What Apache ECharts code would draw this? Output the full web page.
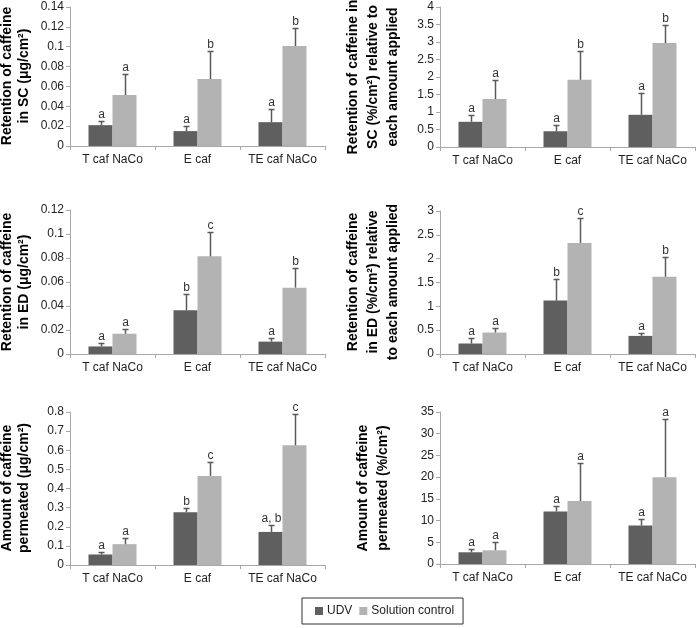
<!doctype html>
<html>
<head>
<meta charset="utf-8">
<title>caffeine retention</title>
<style>
html, body { margin: 0; padding: 0; background: #fff; }
#chart { width: 696px; height: 628px; }
</style>
</head>
<body>
<div id="chart"></div>
<script src="https://cdn.jsdelivr.net/npm/echarts@6/dist/echarts.min.js"></script>
<script>
// categories + series names
var categories = ['T caf NaCo', 'E caf', 'TE caf NaCo'];
var seriesNames = ['UDV', 'Solution control'];

// SC, ug/cm2
var scUgUdv = [0.021, 0.015, 0.024];
var scUgUdvSd = [0.0045, 0.0047, 0.0134];
var scUgSol = [0.0514, 0.0675, 0.1007];
var scUgSolSd = [0.0216, 0.0285, 0.0183];
// SC, % of applied
var scPctUdv = [0.72, 0.45, 0.92];
var scPctUdvSd = [0.19, 0.17, 0.61];
var scPctSol = [1.37, 1.92, 2.97];
var scPctSolSd = [0.55, 0.81, 0.52];
// ED, ug/cm2
var edUgUdv = [0.0063, 0.0364, 0.0103];
var edUgUdvSd = [0.0031, 0.0133, 0.0027];
var edUgSol = [0.0169, 0.0814, 0.0553];
var edUgSolSd = [0.0037, 0.0200, 0.0161];
// ED, % of applied
var edPctUdv = [0.22, 1.12, 0.38];
var edPctUdvSd = [0.11, 0.46, 0.07];
var edPctSol = [0.45, 2.33, 1.62];
var edPctSolSd = [0.09, 0.52, 0.41];
// permeated, ug/cm2
var permUgUdv = [0.055, 0.276, 0.173];
var permUgUdvSd = [0.011, 0.020, 0.035];
var permUgSol = [0.109, 0.466, 0.626];
var permUgSolSd = [0.033, 0.070, 0.162];
// permeated, %/cm2
var permPctUdv = [2.7, 12.1, 8.85];
var permPctUdvSd = [0.7, 1.3, 1.45];
var permPctSol = [3.15, 14.5, 20.0];
var permPctSolSd = [2.0, 8.7, 13.4];

// significance letters
var lettersAAA = ['a', 'a', 'a'];
var lettersABB = ['a', 'b', 'b'];
var lettersABA = ['a', 'b', 'a'];
var lettersACB = ['a', 'c', 'b'];
var lettersABAB = ['a', 'b', 'a, b'];
var lettersACC = ['a', 'c', 'c'];

// y axis ranges
var yMax = [0.14, 4, 0.12, 3, 0.8, 35];
var yStep = [0.02, 0.5, 0.02, 0.5, 0.1, 5];

var yTitles = [
    'Retention of caffeine\nin SC (μg/cm²)',
    'Retention of caffeine in\nSC (%/cm²) relative to\neach amount applied',
    'Retention of caffeine\nin ED (μg/cm²)',
    'Retention of caffeine\nin ED (%/cm²) relative\nto each amount applied',
    'Amount of caffeine\npermeated (μg/cm²)',
    'Amount of caffeine\npermeated (%/cm²)'
];

var panels = [
    { udv: scUgUdv, udvSd: scUgUdvSd, sol: scUgSol, solSd: scUgSolSd, udvL: lettersAAA, solL: lettersABB },
    { udv: scPctUdv, udvSd: scPctUdvSd, sol: scPctSol, solSd: scPctSolSd, udvL: lettersAAA, solL: lettersABB },
    { udv: edUgUdv, udvSd: edUgUdvSd, sol: edUgSol, solSd: edUgSolSd, udvL: lettersABA, solL: lettersACB },
    { udv: edPctUdv, udvSd: edPctUdvSd, sol: edPctSol, solSd: edPctSolSd, udvL: lettersABA, solL: lettersACB },
    { udv: permUgUdv, udvSd: permUgUdvSd, sol: permUgSol, solSd: permUgSolSd, udvL: lettersABAB, solL: lettersACC },
    { udv: permPctUdv, udvSd: permPctUdvSd, sol: permPctSol, solSd: permPctSolSd, udvL: lettersAAA, solL: lettersAAA }
];

// layout
var grids = [
    { left: 70, width: 255, top: 7, height: 139 },
    { left: 440, width: 255, top: 7, height: 140 },
    { left: 70, width: 255, top: 210, height: 144 },
    { left: 440, width: 255, top: 211, height: 143 },
    { left: 70, width: 255, top: 412, height: 153 },
    { left: 440, width: 255, top: 412, height: 152 }
];
var titlePos = [[16, 76], [373, 77], [16, 282], [373, 282], [16, 488], [373, 488]];

var FONT = '"Liberation Sans", Arial, sans-serif';
var DARK = '#5f5f5f';
var LIGHT = '#b3b3b3';
var AXIS = '#a8a8a8';
var BAR_W = 24;

function errRender(letters, offset) {
    return function (params, api) {
        var base = api.coord([api.value(0), api.value(1)]);
        var top = api.coord([api.value(0), api.value(2)]);
        var x = Math.round(base[0] + offset) + 0.5;
        var y1 = Math.round(top[1]) + 0.5;
        return {
            type: 'group',
            children: [
                { type: 'line', shape: { x1: x, y1: base[1], x2: x, y2: y1 }, style: { stroke: '#595959', lineWidth: 1.5 } },
                { type: 'line', shape: { x1: x - 3, y1: y1, x2: x + 3, y2: y1 }, style: { stroke: '#595959', lineWidth: 1.5 } },
                { type: 'text', x: x, y: y1 - 1, style: { text: letters[params.dataIndex], align: 'center', verticalAlign: 'bottom', fill: '#333', font: '12px ' + FONT } }
            ]
        };
    };
}

var xAxes = [], yAxes = [], series = [], graphics = [];
panels.forEach(function (p, i) {
    xAxes.push({
        type: 'category', gridIndex: i, data: categories,
        axisLine: { lineStyle: { color: AXIS } },
        axisTick: { show: true, alignWithLabel: false, length: 4, lineStyle: { color: AXIS } },
        axisLabel: { interval: 0, color: '#222', fontSize: 12, fontFamily: FONT, margin: 8 }
    });
    yAxes.push({
        type: 'value', gridIndex: i, min: 0, max: yMax[i], interval: yStep[i],
        axisLine: { show: true, lineStyle: { color: AXIS } },
        axisTick: { show: true, length: 4, lineStyle: { color: AXIS } },
        splitLine: { show: false },
        axisLabel: { color: '#222', fontSize: 12, fontFamily: FONT, margin: 6 }
    });
    series.push({
        name: seriesNames[0], type: 'bar', xAxisIndex: i, yAxisIndex: i,
        data: p.udv, barWidth: BAR_W, barGap: '0%',
        itemStyle: { color: DARK }, silent: true
    });
    series.push({
        name: seriesNames[1], type: 'bar', xAxisIndex: i, yAxisIndex: i,
        data: p.sol, barWidth: BAR_W, barGap: '0%',
        itemStyle: { color: LIGHT }, silent: true
    });
    series.push({
        type: 'custom', xAxisIndex: i, yAxisIndex: i, clip: false, z: 5,
        renderItem: errRender(p.udvL, -BAR_W / 2),
        data: p.udv.map(function (v, k) { return [k, v, v + p.udvSd[k]]; }),
        encode: { x: 0, y: [1, 2] }
    });
    series.push({
        type: 'custom', xAxisIndex: i, yAxisIndex: i, clip: false, z: 5,
        renderItem: errRender(p.solL, BAR_W / 2),
        data: p.sol.map(function (v, k) { return [k, v, v + p.solSd[k]]; }),
        encode: { x: 0, y: [1, 2] }
    });
    graphics.push({
        type: 'text', x: titlePos[i][0], y: titlePos[i][1], rotation: Math.PI / 2,
        style: {
            text: yTitles[i], align: 'center', verticalAlign: 'middle',
            font: 'bold 14px ' + FONT, lineHeight: i % 2 ? 20 : 17, fill: '#000'
        }
    });
});

var chart = echarts.init(document.getElementById('chart'));
chart.setOption({
    animation: false,
    backgroundColor: '#fff',
    grid: grids,
    xAxis: xAxes,
    yAxis: yAxes,
    series: series,
    graphic: graphics,
    legend: {
        data: seriesNames,
        left: 302, top: 598,
        icon: 'rect', itemWidth: 8, itemHeight: 8, itemGap: 7,
        padding: [7, 9, 7, 13],
        borderColor: '#333', borderWidth: 1,
        textStyle: { color: '#222', fontSize: 12, fontFamily: FONT, padding: [0, 0, 0, -1] }
    }
});
</script>
</body>
</html>
